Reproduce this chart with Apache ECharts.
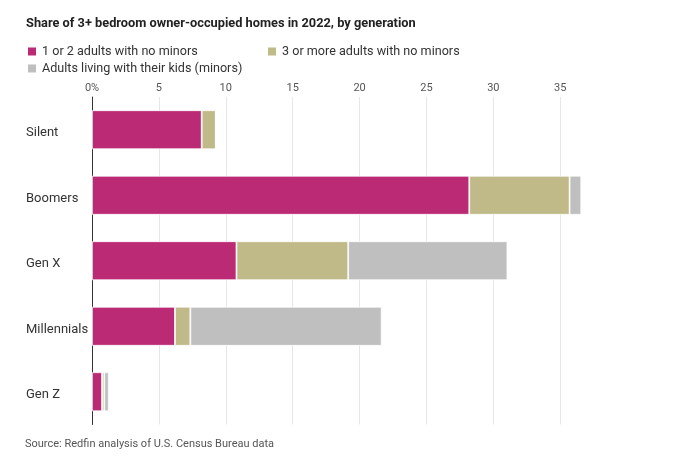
<!DOCTYPE html>
<html><head><meta charset="utf-8">
<script src="https://cdn.jsdelivr.net/npm/echarts@6/dist/echarts.min.js"></script>
<style>html,body{margin:0;padding:0;background:#fff}#c{width:680px;height:468px}</style>
</head><body><div id="c"></div>
<script>
const categories = ['Silent', 'Boomers', 'Gen X', 'Millennials', 'Gen Z'];
const seriesNames = ['1 or 2 adults with no minors', '3 or more adults with no minors', 'Adults living with their kids (minors)'];
const oneOrTwoAdults = [8.2, 28.2, 10.8, 6.2, 0.75];
const threePlusAdults = [1.05, 7.5, 8.35, 1.15, 0.17];
const withKids = [0, 0.87, 11.9, 14.3, 0.33];
const xTicks = [0, 5, 10, 15, 20, 25, 30, 35];
const colors = ['#bb2a74', '#c0ba88', '#bfbfbf'];
const FONT = 'Roboto, "Noto Sans", sans-serif';

const chart = echarts.init(document.getElementById('c'), null, {renderer: 'canvas'});
const values = [oneOrTwoAdults, threePlusAdults, withKids];
const legendPos = [{left: 26, top: 45}, {left: 266, top: 45}, {left: 26, top: 62}];
chart.setOption({
  animation: false,
  textStyle: {fontFamily: FONT},
  title: {
    text: 'Share of 3+ bedroom owner-occupied homes in 2022, by generation',
    left: 21, top: 12,
    textStyle: {fontFamily: FONT, fontSize: 12.8, fontWeight: 'bold', color: '#222'}
  },
  legend: seriesNames.map((n, i) => ({
    data: [n], left: legendPos[i].left, top: legendPos[i].top, padding: 0,
    itemWidth: 10, itemHeight: 10, icon: 'rect', itemGap: 6,
    textStyle: {fontFamily: FONT, fontSize: 12.6, color: '#333'}
  })),
  grid: {left: 92, top: 97, right: 93, bottom: 43.5, containLabel: false},
  xAxis: {
    type: 'value', position: 'top', min: 0, max: 37, interval: 5,
    axisLine: {show: false}, axisTick: {show: false},
    splitLine: {show: true, showMaxLine: false, lineStyle: {color: '#e6e6e6', width: 1}},
    axisLabel: {
      margin: 3, fontSize: 11, color: '#555', fontFamily: FONT, showMaxLabel: false,
      formatter: v => xTicks.includes(v) ? (v === 0 ? '0%' : String(v)) : ''
    }
  },
  yAxis: {
    type: 'category', data: categories, inverse: true,
    axisLine: {show: true, lineStyle: {color: '#333', width: 1}},
    axisTick: {show: false},
    axisLabel: {align: 'left', verticalAlign: 'top', lineHeight: 6, margin: 66, fontSize: 13, color: '#333', fontFamily: FONT}
  },
  series: seriesNames.map((n, i) => ({
    name: n, type: 'bar', stack: 'total', data: values[i], barWidth: 39,
    itemStyle: {color: colors[i], borderColor: '#fff', borderWidth: 0.8}
  })),
  graphic: [{
    type: 'text', left: 25, top: 439,
    style: {text: 'Source: Redfin analysis of U.S. Census Bureau data', fontFamily: FONT, fontSize: 11, fill: '#555'}
  }]
});
</script></body></html>
